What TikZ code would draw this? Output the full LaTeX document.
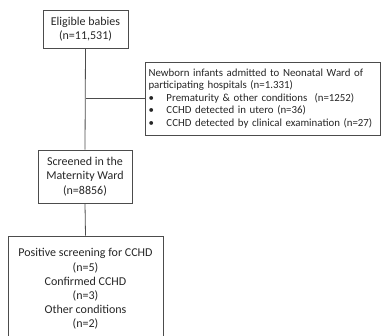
\documentclass[tikz,border=0pt]{standalone}
\usepackage{fontspec}
\setmainfont{Carlito}
\begin{document}
\begin{tikzpicture}[x=1pt,y=-1pt,
  box/.style={draw=black!70, line width=0.8pt, inner sep=0pt, align=center,
    font=\fontsize{12}{14.2}\selectfont, text=black!85},
  sidebox/.style={draw=black!70, line width=0.8pt, inner sep=0pt, align=left,
    font=\fontsize{10.85}{12.4}\selectfont, text=black!85},
  conn/.style={draw=black!70, line width=0.8pt}]
\useasboundingbox (0,0) rectangle (381,336);
\node[box, minimum width=85pt, minimum height=38pt] (elig) at (85.5,29.5)
  {Eligible babies\\(n=11,531)};
\node[sidebox, minimum width=235pt, minimum height=73pt, text width=228pt] (side) at (262.5,98.5)
  {\mbox{Newborn infants admitted to Neonatal Ward of}\\
   participating hospitals (n=1.331)\\
   \makebox[18pt][l]{•}Prematurity \& other conditions\ \ (n=1252)\\
   \makebox[18pt][l]{•}CCHD detected in utero (n=36)\\
   \makebox[18pt][l]{•}\mbox{CCHD detected by clinical examination (n=27)}};
\node[box, minimum width=94pt, minimum height=53pt] (scr) at (85,176.5)
  {Screened in the\\Maternity Ward\\(n=8856)};
\node[box, minimum width=155pt, minimum height=106pt] (pos) at (85.5,289)
  {Positive screening for CCHD\\(n=5)\\Confirmed CCHD\\(n=3)\\Other conditions\\(n=2)};
\coordinate (br) at (elig.south |- side.west);
\draw[conn] (elig.south) -- (scr.north);
\draw[conn] (br) -- (side.west);
\draw[conn] (scr.south) -- (pos.north);
\end{tikzpicture}
\end{document}
